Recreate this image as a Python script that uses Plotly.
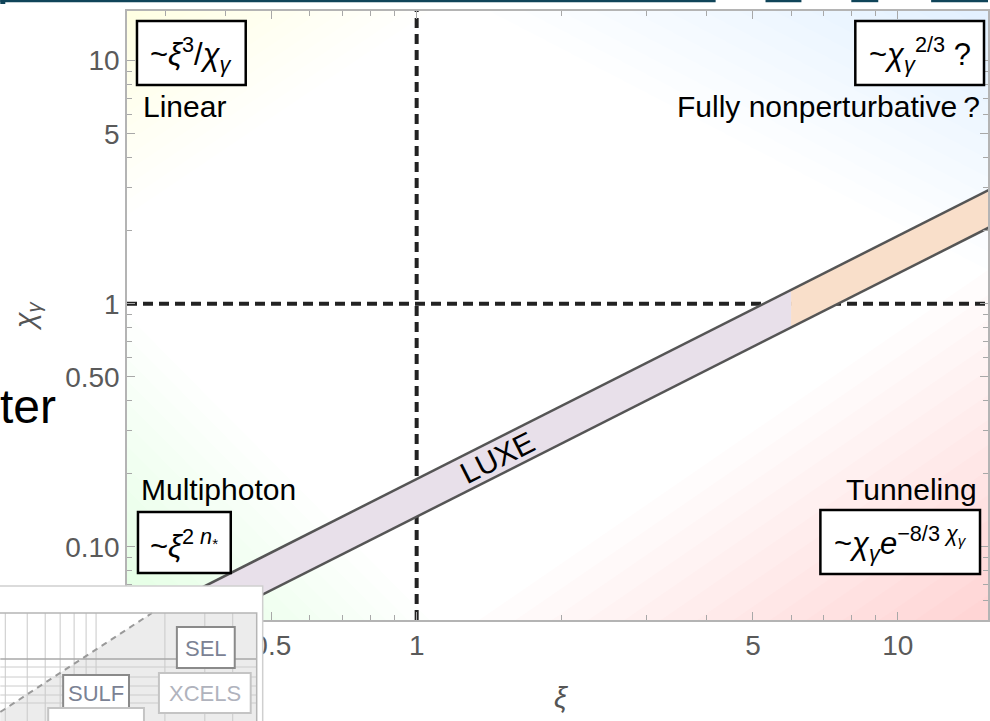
import numpy as np
import plotly.graph_objects as go

# ---------------------------------------------------------------- data
xi_range = [0.25, 15.4]
chi_range = [0.05, 16.0]

xi_tickvals = [0.5, 1, 5, 10]
xi_ticktext = ["0.5", "1", "5", "10"]
xi_minor = [0.3, 0.4, 0.6, 0.7, 0.8, 0.9, 2, 3, 4, 6, 7, 8, 9]

chi_tickvals = [0.1, 0.5, 1, 5, 10]
chi_ticktext = ["0.10", "0.50", "1", "5", "10"]
chi_minor = [0.06, 0.07, 0.08, 0.09, 0.2, 0.3, 0.4, 0.6, 0.7, 0.8, 0.9,
             2, 3, 4, 6, 7, 8, 9]

# LUXE band: chi_gamma limits vs xi (straight lines in log-log)
luxe_xi = [0.2, 6.0, 20.0]
luxe_chi_upper = [0.038, 1.14, 3.8]
luxe_chi_lower = [0.0266, 0.798, 2.66]

# regime boundaries
ref_xi = 1.0
ref_chi = 1.0

# ---------------------------------------------------------------- geometry
W, H = 990, 721
L, R_EDGE, T, B = 127, 990, 11, 620
FONT = "Liberation Sans, Arial, Helvetica, sans-serif"


def px(x):
    return (x - L) / (R_EDGE - L)


def py(y):
    return (B - y) / (B - T)


fig = go.Figure()

# dashed regime boundaries
fig.add_trace(go.Scatter(x=[ref_xi, ref_xi], y=chi_range, mode="lines",
                         line=dict(color="#222222", width=4, dash="10px,6px"),
                         hoverinfo="skip"))
fig.add_trace(go.Scatter(x=[xi_range[0], 30], y=[ref_chi, ref_chi], mode="lines",
                         line=dict(color="#222222", width=4, dash="10px,6px"),
                         hoverinfo="skip"))

# LUXE band, two segments
band_colors = ["#e8e0ea", "#f9dfca"]
for i, col in enumerate(band_colors):
    xs = [luxe_xi[i], luxe_xi[i + 1], luxe_xi[i + 1], luxe_xi[i]]
    ys = [luxe_chi_upper[i], luxe_chi_upper[i + 1],
          luxe_chi_lower[i + 1], luxe_chi_lower[i]]
    fig.add_trace(go.Scatter(x=xs, y=ys, mode="lines", fill="toself",
                             fillcolor=col, line=dict(width=0),
                             hoverinfo="skip"))
for edge in (luxe_chi_upper, luxe_chi_lower):
    fig.add_trace(go.Scatter(x=[luxe_xi[0], luxe_xi[-1]], y=[edge[0], edge[-1]],
                             mode="lines", line=dict(color="#555555", width=2.5),
                             hoverinfo="skip"))

shapes = []


# soft corner tints marking the four regimes
def corner_tint(c, p1, p2, base, total, steps=14):
    a = 1 - (1 - total) ** (1 / steps)
    for k in range(steps, 0, -1):
        t = k / steps
        q1 = (c[0] + t * (p1[0] - c[0]), c[1] + t * (p1[1] - c[1]))
        q2 = (c[0] + t * (p2[0] - c[0]), c[1] + t * (p2[1] - c[1]))
        path = "M {} {} L {} {} L {} {} Z".format(px(c[0]), py(c[1]),
                                                  px(q1[0]), py(q1[1]),
                                                  px(q2[0]), py(q2[1]))
        shapes.append(dict(type="path", path=path, xref="paper", yref="paper",
                           fillcolor="rgba({},{},{},{:.4f})".format(*base, a),
                           line=dict(width=0), layer="below"))


corner_tint((L, T), (430, T), (L, 215), (255, 235, 130), 0.22)
corner_tint((R_EDGE, T), (490, T), (R_EDGE, 270), (120, 170, 235), 0.2)
corner_tint((L, B), (L, 315), (430, B), (120, 230, 120), 0.2)
corner_tint((R_EDGE, B), (480, B), (R_EDGE, 270), (230, 80, 80), 0.23)


def rect(x0, y0, x1, y1, fill="white", line="black", lw=2.5, layer="above"):
    shapes.append(dict(type="rect", xref="paper", yref="paper",
                       x0=px(x0), x1=px(x1), y0=py(y1), y1=py(y0),
                       fillcolor=fill, line=dict(color=line, width=lw),
                       layer=layer))


annotations = []


def label(x, y, text, size=30, color="black", xanchor="center",
          yanchor="middle", angle=0):
    annotations.append(dict(x=px(x), y=py(y), xref="paper", yref="paper",
                            text=text, showarrow=False, xanchor=xanchor,
                            yanchor=yanchor, textangle=angle,
                            font=dict(family=FONT, size=size, color=color)))


# formula boxes
formula_boxes = [
    ((137, 21, 246, 85), "~<i>ξ</i><sup>3</sup>/<i>χ</i><sub><i>γ</i></sub>"),
    ((857, 21, 986, 85), "~<i>χ</i><sub><i>γ</i></sub><sup>2/3</sup> ?"),
    ((138, 512, 231, 573), "~<i>ξ</i><sup>2 <i>n</i><sub>*</sub></sup>"),
    ((822, 510, 982, 574),
     "~<i>χ</i><sub><i>γ</i></sub><i>e</i><sup>−8/3 <i>χ</i><sub><i>γ</i></sub></sup>"),
]
for (x0, y0, x1, y1), txt in formula_boxes:
    rect(x0, y0, x1, y1)
    label((x0 + x1) / 2, (y0 + y1) / 2 + 1, txt, size=31)

# regime names
label(141, 106, "Linear", xanchor="left")
label(984, 106, "Fully nonperturbative\u2009?", xanchor="right")
label(139, 489, "Multiphoton", xanchor="left")
label(981, 489, "Tunneling", xanchor="right")

# LUXE label along the band (geometric mean of the two edges)
lx = 1.47
lgx = np.log10(luxe_xi)
up = np.interp(np.log10(lx), lgx, np.log10(luxe_chi_upper))
lo = np.interp(np.log10(lx), lgx, np.log10(luxe_chi_lower))
annotations.append(dict(x=np.log10(lx), y=(up + lo) / 2, xref="x", yref="y",
                        text="LUXE", showarrow=False, textangle=-26.8,
                        font=dict(family=FONT, size=30, color="black")))

# axis titles
label(563, 698, "<i>ξ</i>", size=29, color="#555555")
label(27, 316, "<i>χ</i><sub><i>γ</i></sub>", size=29, color="#555555", angle=-90)

# slide text next to the chart
label(58, 406, "ter", size=48, xanchor="right")

# slide header strip
for a, b in [(0, 717), (767, 803), (853, 880), (933, 990)]:
    shapes.append(dict(type="rect", xref="paper", yref="paper",
                       x0=px(a), x1=px(b), y0=py(2.2), y1=py(0),
                       fillcolor="#0f4459", line=dict(width=0), layer="above"))
shapes.append(dict(type="rect", xref="paper", yref="paper",
                   x0=px(0), x1=px(5), y0=py(4), y1=py(0),
                   fillcolor="#0f4459", line=dict(width=0), layer="above"))

# small facility-map thumbnail in the lower left corner
rect(-5, 586, 263, 730, fill="white", line="#cfcfcf", lw=1.5)
shapes.append(dict(type="path", xref="paper", yref="paper", layer="above",
                   path="M {} {} L {} {} L {} {} L {} {} L {} {} Z".format(
                       px(0), py(712), px(152), py(613), px(257), py(613),
                       px(257), py(721), px(0), py(721)),
                   fillcolor="#ececec", line=dict(width=0)))
for gx in [5, 27, 45, 60, 74, 86, 96, 165, 205, 233]:
    shapes.append(dict(type="line", xref="paper", yref="paper", layer="above",
                       x0=px(gx), x1=px(gx), y0=py(613), y1=py(721),
                       line=dict(color="#c9c9c9", width=1)))
for gy, gc in [(659, "#a8a8a8"), (667, "#cccccc"), (677, "#cccccc"),
               (686, "#cccccc"), (695, "#cccccc"), (703, "#cccccc")]:
    shapes.append(dict(type="line", xref="paper", yref="paper", layer="above",
                       x0=px(0), x1=px(257), y0=py(gy), y1=py(gy),
                       line=dict(color=gc, width=1.5 if gc == "#a8a8a8" else 1)))
shapes.append(dict(type="line", xref="paper", yref="paper", layer="above",
                   x0=px(0), x1=px(152), y0=py(712), y1=py(613),
                   line=dict(color="#9a9a9a", width=2, dash="6px,5px")))
rect(-5, 613, 257, 730, fill="rgba(0,0,0,0)", line="#b5b5b5", lw=1.5)
rect(177, 627, 235, 668, line="#8a8a8a", lw=2)
rect(63, 675, 129, 710, line="#8a8a8a", lw=2)
rect(159, 673, 251, 713, line="#c4c4c4", lw=2)
rect(48, 708, 144, 730, line="#c4c4c4", lw=2)
label(206, 648, "SEL", size=22, color="#7b8294")
label(96, 693, "SULF", size=22, color="#7b8294")
label(205, 693, "XCELS", size=22, color="#b0b3bd")

axis_common = dict(
    type="log", ticks="inside", ticklen=8, tickwidth=1.2, tickcolor="#a8a8a8",
    showline=True, linecolor="#b4b4b4", linewidth=1.5, mirror="ticks",
    showgrid=False, zeroline=False, tickmode="array",
    tickfont=dict(family=FONT, size=28, color="#5a5a5a"),
)

fig.update_layout(
    width=W, height=H,
    margin=dict(l=L, r=W - R_EDGE, t=T, b=H - B, pad=0),
    paper_bgcolor="white", plot_bgcolor="white",
    showlegend=False,
    xaxis=dict(range=[np.log10(xi_range[0]), np.log10(xi_range[1])],
               tickvals=xi_tickvals, ticktext=xi_ticktext,
               minor=dict(tickvals=xi_minor, ticks="inside", ticklen=5,
                          tickcolor="#a8a8a8", tickwidth=1.2, showgrid=False),
               **axis_common),
    yaxis=dict(range=[np.log10(chi_range[0]), np.log10(chi_range[1])],
               tickvals=chi_tickvals, ticktext=chi_ticktext,
               minor=dict(tickvals=chi_minor, ticks="inside", ticklen=5,
                          tickcolor="#a8a8a8", tickwidth=1.2, showgrid=False),
               **axis_common),
    shapes=shapes,
    annotations=annotations,
)

fig.write_html("out.html")
